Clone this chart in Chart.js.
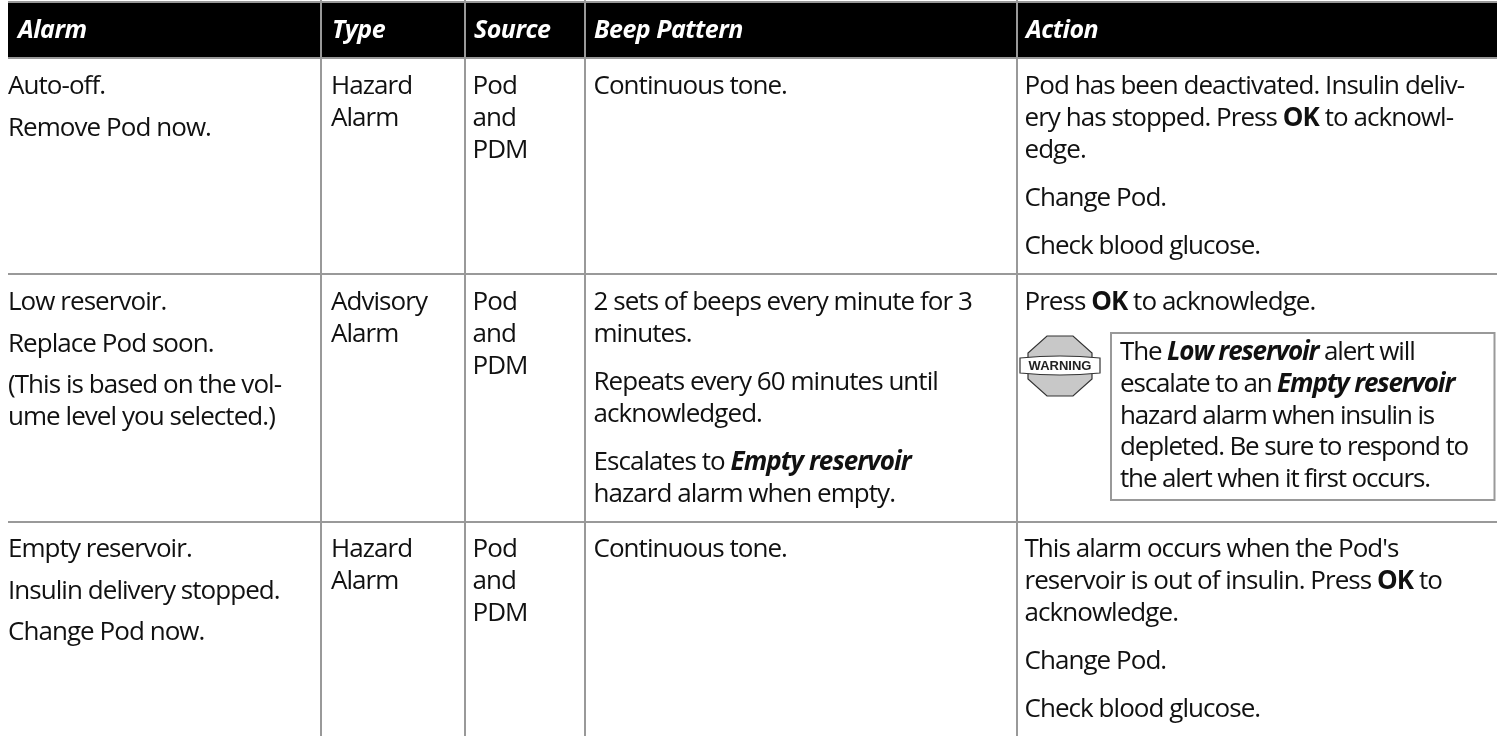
<!DOCTYPE html>
<html>
<head>
<meta charset="utf-8">
<style>
  html, body { margin: 0; padding: 0; background: #fff; }
  #wrap { width: 1497px; height: 736px; }
</style>
<script src="https://cdn.jsdelivr.net/npm/chart.js@4"></script>
</head>
<body>
<div id="wrap"><canvas id="chart"></canvas></div>
<script>
// table content, ** = bold, *** = bold italic
const headers = ['Alarm', 'Type', 'Source', 'Beep Pattern', 'Action'];
const alarmCells = [
    [['Auto-off.'], ['Remove Pod now.']],
    [['Low reservoir.'], ['Replace Pod soon.'], ['(This is based on the vol-', 'ume level you selected.)']],
    [['Empty reservoir.'], ['Insulin delivery stopped.'], ['Change Pod now.']]
];
const typeCells = [
    [['Hazard', 'Alarm']],
    [['Advisory', 'Alarm']],
    [['Hazard', 'Alarm']]
];
const sourceCells = [
    [['Pod', 'and', 'PDM']],
    [['Pod', 'and', 'PDM']],
    [['Pod', 'and', 'PDM']]
];
const beepCells = [
    [['Continuous tone.']],
    [['2 sets of beeps every minute for 3', 'minutes.'], ['Repeats every 60 minutes until', 'acknowledged.'], ['Escalates to ***Empty reservoir***', 'hazard alarm when empty.']],
    [['Continuous tone.']]
];
const actionCells = [
    [['Pod has been deactivated. Insulin deliv-', 'ery has stopped. Press **OK** to acknowl-', 'edge.'], ['Change Pod.'], ['Check blood glucose.']],
    [['Press **OK** to acknowledge.']],
    [['This alarm occurs when the Pod\'s', 'reservoir is out of insulin. Press **OK** to', 'acknowledge.'], ['Change Pod.'], ['Check blood glucose.']]
];
const warningLines = ['The ***Low reservoir*** alert will', 'escalate to an ***Empty reservoir***', 'hazard alarm when insulin is', 'depleted. Be sure to respond to', 'the alert when it first occurs.'];

// table geometry in page units
const columnEdges = [320.5, 464.5, 585, 1016.5];
const rowEdges = [2, 57.5, 273.5, 521.5];
const headerBand = [3, 57];
const rowBaselines = [94, 310, 557];
const textX = [8, 331, 472.5, 593.5, 1024.5];
const headerX = [18, 332, 474, 594, 1026];
const paraGap = [41.5, 48, 48, 48, 48];

const FONT = '"Open Sans"';
const LINE = 32, SIZE = 26, SPACING = -0.95;

function parseRuns(s) {
    return s.split(/(\*\*\*.+?\*\*\*|\*\*.+?\*\*)/).filter(Boolean).map(p => {
        if (p.startsWith('***')) return {t: p.slice(3, -3), style: 'italic bold '};
        if (p.startsWith('**')) return {t: p.slice(2, -2), style: 'bold '};
        return {t: p, style: ''};
    });
}

function drawLine(ctx, s, x, y, size, spacing) {
    ctx.letterSpacing = spacing + 'px';
    parseRuns(s).forEach(r => {
        ctx.font = r.style + size + 'px ' + FONT;
        ctx.fillText(r.t, x, y);
        x += ctx.measureText(r.t).width;
    });
}

function drawCell(ctx, paragraphs, x, y, gap) {
    paragraphs.forEach(par => {
        par.forEach((line, i) => {
            drawLine(ctx, line, x, y, SIZE, SPACING);
            if (i < par.length - 1) y += LINE;
        });
        y += gap;
    });
}

function drawWarningIcon(ctx, cx, cy) {
    const r = 30, c = 13;
    ctx.beginPath();
    [[-c, -r], [c, -r], [r + 2, -c], [r + 2, c], [c, r], [-c, r], [-r - 2, c], [-r - 2, -c]].forEach(p => ctx.lineTo(cx + p[0], cy + p[1]));
    ctx.closePath();
    ctx.fillStyle = '#c8c8c8';
    ctx.strokeStyle = '#333';
    ctx.lineWidth = 1.2;
    ctx.fill();
    ctx.stroke();
    ctx.beginPath();
    ctx.moveTo(cx - 40, cy - 8);
    ctx.quadraticCurveTo(cx, cy - 12, cx + 40, cy - 8);
    ctx.lineTo(cx + 40, cy + 7);
    ctx.quadraticCurveTo(cx, cy + 11, cx - 40, cy + 7);
    ctx.closePath();
    ctx.fillStyle = '#fff';
    ctx.fill();
    ctx.stroke();
    ctx.fillStyle = '#222';
    ctx.letterSpacing = '0px';
    ctx.font = 'bold 13px "Liberation Sans"';
    ctx.textAlign = 'center';
    ctx.fillText('WARNING', cx, cy + 4);
    ctx.textAlign = 'left';
}

const tableText = {
    id: 'tableText',
    afterDraw(chart) {
        const ctx = chart.ctx, xs = chart.scales.x, ys = chart.scales.y;
        const px = v => xs.getPixelForValue(v), py = v => ys.getPixelForValue(v);
        ctx.save();
        ctx.textBaseline = 'alphabetic';
        ctx.fillStyle = '#fff';
        headers.forEach((h, i) => drawLine(ctx, '***' + h + '***', px(headerX[i]), py(37.5), 25, -0.5));
        ctx.fillStyle = '#111';
        [alarmCells, typeCells, sourceCells, beepCells, actionCells].forEach((col, c) => {
            col.forEach((cell, r) => drawCell(ctx, cell, px(textX[c]), py(rowBaselines[r]), paraGap[c]));
        });
        // warning box
        ctx.strokeStyle = '#999';
        ctx.lineWidth = 2;
        ctx.strokeRect(px(1111), py(333), px(1494.5) - px(1111), py(500) - py(333));
        warningLines.forEach((l, i) => drawLine(ctx, l, px(1120), py(360 + i * 31.8), SIZE, -1.15));
        drawWarningIcon(ctx, px(1060), py(366));
        ctx.restore();
    }
};

new Chart(document.getElementById('chart'), {
    type: 'scatter',
    data: {
        datasets: [{
            // black header band
            data: [{x: 8, y: headerBand[0]}, {x: 1497, y: headerBand[0]}],
            showLine: true,
            borderWidth: 0,
            pointRadius: 0,
            backgroundColor: '#000',
            fill: {value: headerBand[1]}
        }]
    },
    plugins: [tableText],
    options: {
        responsive: true,
        maintainAspectRatio: false,
        animation: false,
        layout: {padding: {left: 8}},
        plugins: {legend: {display: false}, tooltip: {enabled: false}},
        scales: {
            x: {
                type: 'linear',
                min: 8,
                max: 1497,
                afterBuildTicks: s => { s.ticks = columnEdges.map(v => ({value: v})); },
                ticks: {display: false},
                border: {display: false},
                grid: {color: '#999', lineWidth: 2, drawTicks: false, z: 1}
            },
            y: {
                type: 'linear',
                min: 0,
                max: 736,
                reverse: true,
                afterBuildTicks: s => { s.ticks = rowEdges.map(v => ({value: v})); },
                ticks: {display: false},
                border: {display: false},
                grid: {color: '#999', lineWidth: 2, drawTicks: false, z: 1}
            }
        }
    }
});
</script>
</body>
</html>
